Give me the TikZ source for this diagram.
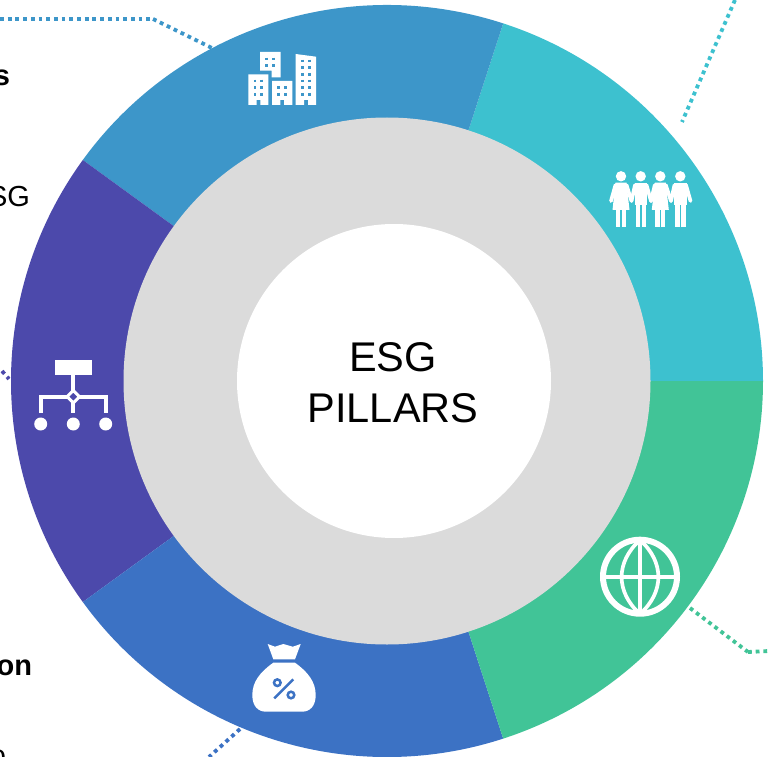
\documentclass[tikz,border=0pt]{standalone}
\usepackage{fontspec}
\setmainfont{Liberation Sans}
\usepackage{tikz}
\definecolor{TealPillar}{HTML}{3DC1CF}
\definecolor{BluePillar}{HTML}{3D96C9}
\definecolor{PurplePillar}{HTML}{4C49AB}
\definecolor{RoyalPillar}{HTML}{3C72C4}
\definecolor{GreenPillar}{HTML}{41C497}
\definecolor{HoleGray}{HTML}{DBDBDB}

\begin{document}
\begin{tikzpicture}[x=1pt,y=-1pt]
  \tikzset{DiscStyle/.style = {
    shape         = circle,
    inner sep     = 0pt,
    outer sep     = 0pt
    }
  }
  \tikzset{DotStyle/.style = {
    line width    = 3.8pt,
    dash pattern  = on 3.8pt off 3.9pt
    }
  }
  \tikzset{CutTextStyle/.style = {
    anchor        = base east,
    inner sep     = 0pt,
    outer sep     = 0pt,
    text          = black,
    font          = \fontsize{29}{33}\selectfont
    }
  }
  \tikzset{IconLine/.style = {
    draw          = white,
    line width    = 3.7pt
    }
  }
  \tikzset{WindowStyle/.style = {
    line width    = 2.9pt,
    dash pattern  = on 2.9pt off 3.77pt
    }
  }

  \useasboundingbox (0,0) rectangle (769,757);
  \clip (0,0) rectangle (769,757);

  \coordinate (Center) at (387,381);

  \fill[TealPillar]   (Center) -- +(0:376)    arc[start angle=0,  end angle=-72, radius=376] -- cycle;
  \fill[BluePillar]   (Center) -- +(-72:376)  arc[start angle=-72,end angle=-144,radius=376] -- cycle;
  \fill[PurplePillar] (Center) -- +(-144:376) arc[start angle=-144,end angle=-216,radius=376] -- cycle;
  \fill[RoyalPillar]  (Center) -- +(-216:376) arc[start angle=-216,end angle=-288,radius=376] -- cycle;
  \fill[GreenPillar]  (Center) -- +(-288:376) arc[start angle=-288,end angle=-360,radius=376] -- cycle;

  \node[DiscStyle,fill=HoleGray,minimum size=527pt](Ring) at (Center) {};
  \node[DiscStyle,fill=white,minimum size=314pt](Hole) at (394,381) {};
  \node[align=center,inner sep=0pt,font=\fontsize{41.5}{51}\selectfont](Pillars) at (393,382.5) {ESG\\PILLARS};

  \node[CutTextStyle,font=\fontsize{29}{33}\selectfont\bfseries](TextA) at (10,86) {s};
  \node[CutTextStyle](TextB) at (30,206.5) {SG};
  \node[CutTextStyle,font=\fontsize{29}{33}\selectfont\bfseries](TextC) at (32,675) {on};
  \node[CutTextStyle](TextD) at (6,765) {o};

  \coordinate (BlueA) at (0,19);
  \coordinate (BlueB) at (153,19);
  \coordinate (BlueC) at (212,48);
  \draw[DotStyle,BluePillar] (BlueA) -- (BlueB);
  \draw[DotStyle,BluePillar] (BlueB) -- (BlueC);
  \coordinate (TealA) at (735,0);
  \coordinate (TealB) at (682,122);
  \draw[DotStyle,TealPillar] (TealA) -- (TealB);
  \coordinate (PurpleA) at (2,371);
  \coordinate (PurpleB) at (9,379);
  \draw[DotStyle,PurplePillar] (PurpleA) -- (PurpleB);
  \coordinate (RoyalA) at (240,729);
  \coordinate (RoyalB) at (209,757);
  \draw[DotStyle,RoyalPillar] (RoyalA) -- (RoyalB);
  \coordinate (GreenA) at (690,608);
  \coordinate (GreenB) at (748,652);
  \coordinate (GreenC) at (769,651);
  \draw[DotStyle,GreenPillar] (GreenA) -- (GreenB);
  \draw[DotStyle,GreenPillar] (GreenB) -- (GreenC);

  % buildings
  \fill[white] (248.3,74.3) -- (268.3,74.3) -- (268.3,105) -- (260.3,105) -- (260.3,100) -- (256.7,100) -- (256.7,105) -- (248.3,105) -- cycle;
  \fill[white] (260,52) -- (280.7,52) -- (280.7,77.3) -- (271.7,77.3) -- (271.7,70.7) -- (260,70.7) -- cycle;
  \fill[white] (272,81) -- (292.3,81) -- (292.3,105) -- (284,105) -- (284,100) -- (280.3,100) -- (280.3,105) -- (272,105) -- cycle;
  \fill[white] (295.7,54) -- (316,56.7) -- (316,105) -- (308,105) -- (308,100) -- (304,100) -- (304,105) -- (295.7,105) -- cycle;
  \draw[WindowStyle,BluePillar] (255,79.55) -- (255,96);
  \draw[WindowStyle,BluePillar] (261.7,79.55) -- (261.7,96);
  \draw[WindowStyle,BluePillar] (266.7,57.55) -- (266.7,67.4);
  \draw[WindowStyle,BluePillar] (273.7,57.55) -- (273.7,67.4);
  \draw[WindowStyle,BluePillar] (278.7,86.25) -- (278.7,96);
  \draw[WindowStyle,BluePillar] (285.7,86.25) -- (285.7,96);
  \draw[WindowStyle,BluePillar] (302.7,59.55) -- (302.7,96);
  \draw[WindowStyle,BluePillar] (309.7,59.55) -- (309.7,96);

  % people
  \fill[white] (621,176.3) circle[radius=5.2];
  \fill[white] (640.7,176.3) circle[radius=5.2];
  \fill[white] (660.3,176.3) circle[radius=5.2];
  \fill[white] (680.3,176.3) circle[radius=5.2];
  \fill[white] (615.5,182.7) -- (626.5,182.7) -- (629.5,210) -- (612.5,210) -- cycle;
  \fill[white] (654.8,182.7) -- (665.8,182.7) -- (668.8,210) -- (651.8,210) -- cycle;
  \fill[white] (634.5,182.7) -- (647,182.7) -- (647,205) -- (634.5,205) -- cycle;
  \fill[white] (674,182.7) -- (686.5,182.7) -- (686.5,205) -- (674,205) -- cycle;
  \fill[white] (616,209) rectangle (620.3,227);
  \fill[white] (621.7,209) rectangle (626,227);
  \fill[white] (655.3,209) rectangle (659.6,227);
  \fill[white] (661,209) rectangle (665.3,227);
  \fill[white] (635.5,204) rectangle (640,227);
  \fill[white] (641.6,204) rectangle (646,227);
  \fill[white] (675.1,204) rectangle (679.6,227);
  \fill[white] (681.2,204) rectangle (685.6,227);
  \draw[IconLine,line cap=round] (615.5,185) -- (611,201);
  \draw[IconLine,line cap=round] (626.5,185) -- (631.5,201);
  \draw[IconLine,line cap=round] (635,185) -- (631.5,201);
  \draw[IconLine,line cap=round] (646.5,185) -- (651,201);
  \draw[IconLine,line cap=round] (654.8,185) -- (651,201);
  \draw[IconLine,line cap=round] (665.8,185) -- (671,201);
  \draw[IconLine,line cap=round] (674.5,185) -- (671,201);
  \draw[IconLine,line cap=round] (686,185) -- (690.5,201);

  % hierarchy
  \fill[white] (55,360) rectangle (91.7,375);
  \draw[IconLine] (73.3,375) -- (73.3,413);
  \draw[IconLine] (40.7,413) -- (40.7,396.7) -- (105.7,396.7) -- (105.7,413);
  \draw[IconLine,line width=3pt,fill=PurplePillar] (73.3,390.5) -- (79.5,396.7) -- (73.3,402.9) -- (67.1,396.7) -- cycle;
  \fill[white] (40.7,424) circle[radius=6.5];
  \fill[white] (73.3,424) circle[radius=6.5];
  \fill[white] (105.7,424) circle[radius=6.5];

  % money bag
  \fill[white] (267.7,644) -- (275,646.7) -- (283.3,644) -- (292.7,646.7) -- (300.7,644) -- (295,659.3) -- (273.3,659.3) -- cycle;
  \fill[white] (273.3,662.7) .. controls (260,672) and (252.3,682) .. (252.3,695)
    .. controls (252.3,706) and (258,711.7) .. (266,711.7) -- (302,711.7)
    .. controls (310,711.7) and (315.7,706) .. (315.7,695)
    .. controls (315.7,682) and (308,672) .. (295,662.7) -- cycle;
  \draw[RoyalPillar,line width=2.5pt] (277.3,682.7) circle[radius=3.3];
  \draw[RoyalPillar,line width=2.5pt] (291,695) circle[radius=3.3];
  \draw[RoyalPillar,line width=2.5pt] (293.3,679.3) -- (274.3,698.3);

  % globe
  \draw[white,line width=6pt] (640,576.7) circle[radius=37];
  \draw[IconLine] (640,540) -- (640,614);
  \draw[IconLine] (603,576.7) -- (677,576.7);
  \draw[IconLine] (640,540) .. controls (615.5,562) and (615.5,592) .. (640,614);
  \draw[IconLine] (640,540) .. controls (664.5,562) and (664.5,592) .. (640,614);
\end{tikzpicture}
\end{document}
